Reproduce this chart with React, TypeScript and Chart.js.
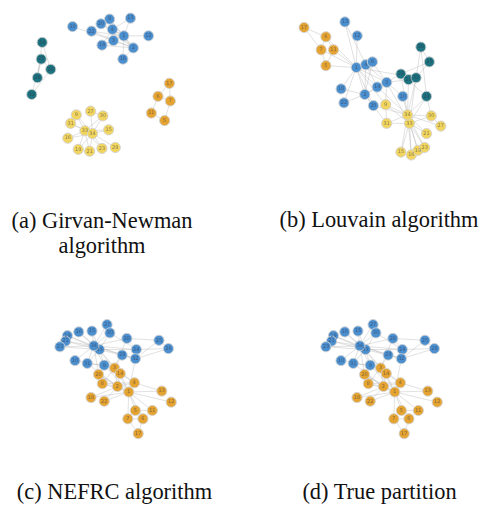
import React, { useEffect, useRef } from "react";
import { Chart, registerables } from "chart.js";

Chart.register(...registerables);

// Zachary karate club edges (node ids 1..34)
const EDGES: [number, number][] = [
  [1, 2], [1, 3], [1, 4], [1, 5], [1, 6], [1, 7], [1, 8], [1, 9], [1, 11], [1, 12], [1, 13], [1, 14], [1, 18], [1, 20], [1, 22], [1, 32],
  [2, 3], [2, 4], [2, 8], [2, 14], [2, 18], [2, 20], [2, 22], [2, 31],
  [3, 4], [3, 8], [3, 9], [3, 10], [3, 14], [3, 28], [3, 29], [3, 33],
  [4, 8], [4, 13], [4, 14],
  [5, 7], [5, 11],
  [6, 7], [6, 11], [6, 17],
  [7, 17],
  [9, 31], [9, 33], [9, 34],
  [10, 34], [14, 34],
  [15, 33], [15, 34], [16, 33], [16, 34], [19, 33], [19, 34],
  [20, 34], [21, 33], [21, 34], [23, 33], [23, 34],
  [24, 26], [24, 28], [24, 30], [24, 33], [24, 34],
  [25, 26], [25, 28], [25, 32], [26, 32],
  [27, 30], [27, 34], [28, 34], [29, 32], [29, 34],
  [30, 33], [30, 34], [31, 33], [31, 34], [32, 33], [32, 34], [33, 34],
];

// community colours: 0 blue, 1 orange, 2 teal, 3 yellow
const COLORS = ["#4b8fcf", "#e5a431", "#1e7380", "#f1d55e"];

// (a) Girvan-Newman layout and communities
const GN_X = [124, 134, 113, 112, 167, 160, 173, 109, 74, 70, 153, 150, 131, 101, 108, 65, 172, 123, 76, 100, 88, 90, 101, 38, 37, 47, 89, 33, 115, 102, 68, 27, 83, 91];
const GN_Y = [32, 45, 37, 25, 123, 97, 102, 14, 117, 22, 115, 32, 13, 42, 133, 142, 83, 57, 154, 19, 156, 27, 153, 39, 57, 68, 113, 77, 152, 118, 126, 95, 134, 137];
const GN_COMM = [0, 0, 0, 0, 1, 1, 1, 0, 3, 0, 1, 0, 0, 0, 3, 3, 1, 0, 3, 0, 3, 0, 3, 2, 2, 2, 3, 2, 3, 3, 3, 2, 3, 3];

// (b) Louvain layout and communities
const LV_X = [115, 124, 147, 125, 83, 83, 78, 132, 146, 164, 91, 116, 103, 137, 162, 173, 60, 99, 180, 133, 189, 102, 187, 189, 192, 183, 204, 162, 170, 194, 147, 178, 171, 169];
const LV_Y = [66, 95, 82, 63, 64, 33, 47, 60, 106, 97, 47, 32, 17, 87, 157, 160, 23, 89, 155, 107, 137, 104, 152, 97, 60, 44, 129, 73, 79, 118, 126, 77, 126, 117];
const LV_COMM = [0, 0, 0, 0, 1, 1, 1, 0, 3, 0, 1, 0, 0, 0, 3, 3, 1, 0, 3, 0, 3, 0, 3, 2, 2, 2, 3, 2, 2, 3, 3, 2, 3, 3];

// (c)/(d) shared layout
const NF_X = [130, 118, 115, 136, 137, 145, 129, 102, 104, 73, 155, 175, 165, 121, 91, 77, 140, 90, 65, 98, 63, 104, 57, 138, 162, 172, 107, 128, 123, 110, 86, 137, 99, 93];
const NF_Y = [93, 87, 67, 83, 113, 122, 122, 84, 64, 59, 113, 104, 92, 73, 27, 28, 138, 99, 32, 74, 38, 103, 44, 47, 37, 46, 20, 35, 53, 29, 62, 57, 47, 43];
const NEFRC_COMM = [1, 1, 1, 1, 1, 1, 1, 1, 0, 0, 1, 1, 1, 1, 0, 0, 1, 1, 0, 1, 0, 1, 0, 0, 0, 0, 0, 0, 0, 0, 0, 0, 0, 0];
const TRUE_COMM = [1, 1, 1, 1, 1, 1, 1, 1, 0, 0, 1, 1, 1, 1, 0, 0, 1, 1, 0, 1, 0, 1, 0, 0, 0, 0, 0, 0, 0, 0, 0, 0, 0, 0];

type PanelProps = {
  xs: number[];
  ys: number[];
  comm: number[];
  intraOnly: boolean;
  left: number;
  top: number;
  width: number;
  height: number;
};

function Panel({ xs, ys, comm, intraOnly, left, top, width, height }: PanelProps) {
  const ref = useRef<HTMLCanvasElement>(null);
  useEffect(() => {
    if (!ref.current) return;
    const nodes = xs.map((x, i) => ({ x, y: ys[i] }));
    const edgePlugin = {
      id: "edges",
      beforeDatasetsDraw(chart: any) {
        const { ctx, scales } = chart;
        ctx.save();
        ctx.strokeStyle = "rgba(170,170,170,0.5)";
        ctx.lineWidth = 0.7;
        for (const [a, b] of EDGES) {
          if (intraOnly && comm[a - 1] !== comm[b - 1]) continue;
          ctx.beginPath();
          ctx.moveTo(scales.x.getPixelForValue(xs[a - 1]), scales.y.getPixelForValue(ys[a - 1]));
          ctx.lineTo(scales.x.getPixelForValue(xs[b - 1]), scales.y.getPixelForValue(ys[b - 1]));
          ctx.stroke();
        }
        ctx.restore();
      },
    };
    const labelPlugin = {
      id: "nodeLabels",
      afterDatasetsDraw(chart: any) {
        const { ctx } = chart;
        const meta = chart.getDatasetMeta(0);
        ctx.save();
        ctx.font = "5px 'DejaVu Sans', sans-serif";
        ctx.fillStyle = "rgba(40,40,60,0.5)";
        ctx.textAlign = "center";
        ctx.textBaseline = "middle";
        meta.data.forEach((pt: any, i: number) => {
          ctx.fillText(String(i + 1), pt.x, pt.y);
        });
        ctx.restore();
      },
    };
    const chart = new Chart(ref.current, {
      type: "scatter",
      data: {
        datasets: [
          {
            data: nodes,
            pointRadius: 5.1,
            pointHoverRadius: 5.1,
            backgroundColor: comm.map((c) => COLORS[c]),
            borderColor: "rgba(210,210,210,0.9)",
            borderWidth: 1,
            clip: false as any,
          },
        ],
      },
      options: {
        responsive: false,
        maintainAspectRatio: false,
        animation: false,
        devicePixelRatio: 1,
        events: [],
        layout: { padding: 0 },
        scales: {
          x: { type: "linear", min: 0, max: width, display: false },
          y: { type: "linear", min: 0, max: height, reverse: true, display: false },
        },
        plugins: { legend: { display: false }, tooltip: { enabled: false } },
      },
      plugins: [edgePlugin, labelPlugin],
    });
    return () => chart.destroy();
  }, []);
  return (
    <canvas
      ref={ref}
      width={width}
      height={height}
      style={{ position: "absolute", left, top, width, height }}
    />
  );
}

const captionStyle: React.CSSProperties = {
  position: "absolute",
  fontFamily: "Liberation Serif, DejaVu Serif, serif",
  fontSize: 22.4,
  lineHeight: "25px",
  color: "#111",
  textAlign: "center",
  whiteSpace: "nowrap",
  width: 240,
};

export default function App() {
  return (
    <div
      style={{
        position: "absolute",
        left: 0,
        top: 0,
        width: 482,
        height: 507,
        background: "#fff",
        overflow: "hidden",
      }}
    >
      <Panel xs={GN_X} ys={GN_Y} comm={GN_COMM} intraOnly={true} left={0} top={0} width={241} height={175} />
      <Panel xs={LV_X} ys={LV_Y} comm={LV_COMM} intraOnly={false} left={241} top={0} width={241} height={175} />
      <Panel xs={NF_X} ys={NF_Y} comm={NEFRC_COMM} intraOnly={false} left={0} top={300} width={216} height={160} />
      <Panel xs={NF_X} ys={NF_Y} comm={TRUE_COMM} intraOnly={false} left={266} top={300} width={216} height={160} />

      <div style={{ ...captionStyle, left: 102 - 120, top: 208 }}>
        (a) Girvan-Newman
        <br />
        algorithm
      </div>
      <div style={{ ...captionStyle, left: 379 - 120, top: 207 }}>(b) Louvain algorithm</div>
      <div style={{ ...captionStyle, left: 114.5 - 120, top: 479 }}>(c) NEFRC algorithm</div>
      <div style={{ ...captionStyle, left: 379.5 - 120, top: 479 }}>(d) True partition</div>
    </div>
  );
}
